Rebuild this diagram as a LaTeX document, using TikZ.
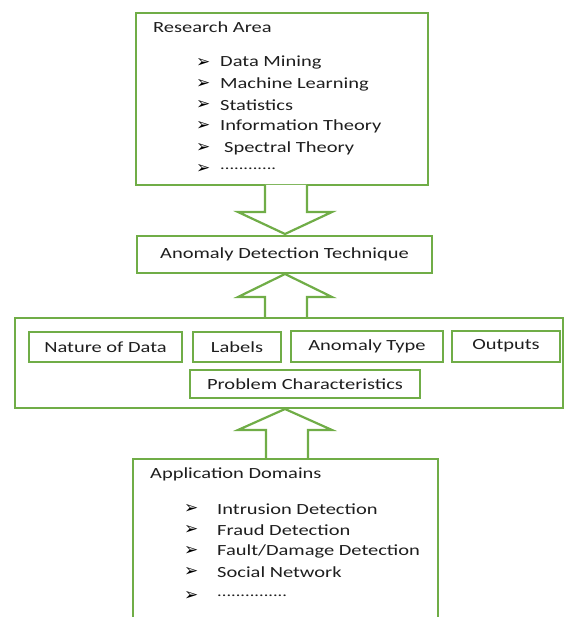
\documentclass[tikz,border=0pt]{standalone}
\usepackage{fontspec}
\setmainfont{Carlito}[FakeStretch=1.32]
\newfontfamily\symfont{DejaVu Sans}
\definecolor{offgreen}{RGB}{112,173,71}
\definecolor{txtgray}{RGB}{30,30,30}
\tikzset{
  gbox/.style={draw=offgreen, line width=2.2pt, fill=white},
  ibox/.style={draw=offgreen, line width=2pt, fill=white, inner sep=0pt, font=\fontsize{15.5}{18}\selectfont, text=txtgray},
  lbl/.style={anchor=west, inner sep=0pt, font=\fontsize{15.5}{18}\selectfont, text=txtgray},
  blt/.style={anchor=west, inner sep=0pt, font=\symfont\fontsize{17}{19}\selectfont, text=black},
  dts/.style={anchor=west, inner sep=0pt, font=\fontsize{14}{16}\selectfont, text=txtgray},
  barrow/.style={draw=offgreen, line width=2.2pt, fill=white, line join=miter},
}
\begin{document}
\begin{tikzpicture}[x=1pt,y=-1pt]
\useasboundingbox (0,0) rectangle (565,617);
% Research area box
\draw[gbox] (136,13) rectangle (428,185);
\node[lbl] (ra) at (153,27) {Research Area};
\node[blt] (rb1) at (196,63) {➢};  \node[lbl] (r1) at (220,63) {Data Mining};
\node[blt] (rb2) at (196,84) {➢};  \node[lbl] (r2) at (220,84) {Machine Learning};
\node[blt] (rb3) at (196,105) {➢}; \node[lbl] (r3) at (220,105) {Statistics};
\node[blt] (rb4) at (196,126) {➢}; \node[lbl] (r4) at (220,126) {Information Theory};
\node[blt] (rb5) at (196,148) {➢}; \node[lbl] (r5) at (224,148) {Spectral Theory};
\node[blt] (rb6) at (196,169) {➢}; \node[dts] (r6) at (220,169) {............};
% arrow down
\draw[barrow] (265,185) -- (265,212) -- (238,212) -- (285,234) -- (332,212) -- (307,212) -- (307,185);
% Anomaly detection technique
\node[ibox, minimum width=295pt, minimum height=37pt, line width=2.2pt] (adt) at (284.5,254.5) {Anomaly Detection Technique};
% arrow up
\draw[barrow] (265,318) -- (265,297) -- (238,297) -- (285,274) -- (332,297) -- (307,297) -- (307,318);
% container
\draw[gbox] (15,318) rectangle (563,408);
\node[ibox, minimum width=153pt, minimum height=30pt] (nd) at (105.5,347) {Nature of Data};
\node[ibox, minimum width=88pt, minimum height=30pt] (lb) at (237,347) {Labels};
\node[ibox, minimum width=152pt, minimum height=31pt] (at) at (367,346) {Anomaly Type};
\node[ibox, minimum width=108pt, minimum height=31pt] (op) at (506,346) {Outputs};
\node[ibox, minimum width=230pt, minimum height=28pt] (pc) at (305,384) {Problem Characteristics};
% arrow up 2
\draw[barrow] (266,459) -- (266,430) -- (238,430) -- (285,409) -- (332,430) -- (308,430) -- (308,459);
% Application domains
\draw[gbox] (133,630) -- (133,459) -- (438,459) -- (438,630);
\node[lbl] (ad) at (150,474) {Application Domains};
\node[blt] (ab1) at (184,509) {➢}; \node[lbl] (a1) at (217,509) {Intrusion Detection};
\node[blt] (ab2) at (184,530) {➢}; \node[lbl] (a2) at (217,530) {Fraud Detection};
\node[blt] (ab3) at (184,551) {➢}; \node[lbl] (a3) at (217,551) {Fault/Damage Detection};
\node[blt] (ab4) at (184,572) {➢}; \node[lbl] (a4) at (217,572) {Social Network};
\node[blt] (ab5) at (184,596) {➢}; \node[dts] (a5) at (217,596) {...............};
\end{tikzpicture}
\end{document}
